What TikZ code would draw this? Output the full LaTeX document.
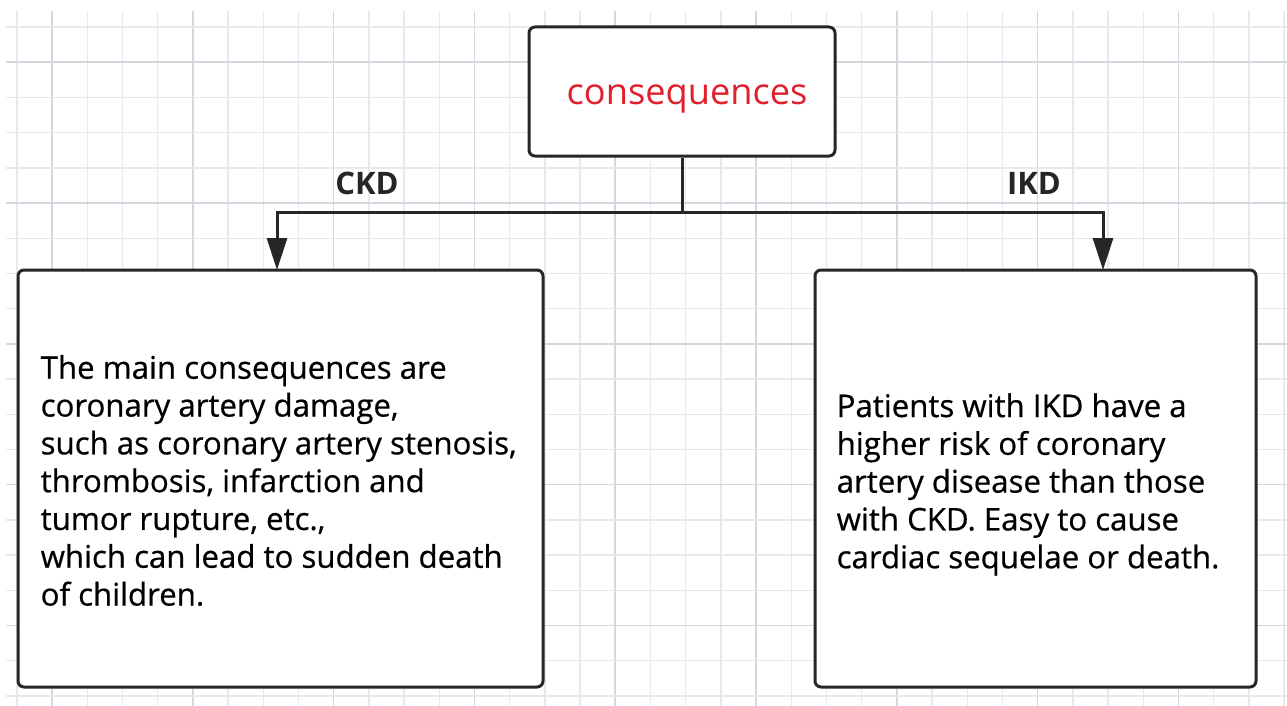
\documentclass[tikz,border=0pt]{standalone}
\usepackage{fontspec}
\setmainfont{Open Sans}
\newfontfamily\bodyfont{Open Sans}[BoldFont={Open Sans}, BoldFeatures={FakeBold=0.6}]
\usetikzlibrary{arrows.meta,calc}
\definecolor{gridminor}{HTML}{E6EAEF}
\definecolor{gridmajor}{HTML}{D3D8DF}
\definecolor{ink}{HTML}{262626}
\definecolor{redtxt}{HTML}{E0202C}
\tikzset{
  box/.style={draw=ink, line width=3pt, rounded corners=6pt, fill=white, inner sep=0pt},
  link/.style={draw=ink, line width=3pt},
  arr/.style={link, -{Triangle[length=32pt,width=20pt]}},
  body/.style={font=\bodyfont\bfseries\fontsize{31.2}{37.8}\selectfont, align=left, inner sep=0pt, text=black},
  branch/.style={font=\bfseries\fontsize{31}{34}\selectfont, text=ink, inner sep=0pt},
}
\begin{document}
\begin{tikzpicture}[x=1pt,y=-1pt]
\useasboundingbox (0,0) rectangle (1287,706);
\fill[white] (0,0) rectangle (1287,706);
% grid
\foreach \k in {0,...,36} {
  \pgfmathsetmacro{\xx}{16.8+35.2*\k}
  \pgfmathtruncatemacro{\m}{mod(\k,4)}
  \ifnum\m=1
    \draw[gridmajor, line width=1.6pt] (\xx,11) -- (\xx,706);
  \else
    \draw[gridminor, line width=1.4pt] (\xx,11) -- (\xx,706);
  \fi
}
\foreach \k in {0,...,19} {
  \pgfmathsetmacro{\yy}{27+35.2*\k}
  \pgfmathtruncatemacro{\m}{mod(\k,4)}
  \ifnum\m=1
    \draw[gridmajor, line width=1.6pt] (6,\yy) -- (1287,\yy);
  \else
    \draw[gridminor, line width=1.4pt] (6,\yy) -- (1287,\yy);
  \fi
}
% boxes
\node[box, minimum width=306pt, minimum height=129pt] (top) at (682,91.5) {};
\node[font=\fontsize{36.2}{40}\selectfont, text=redtxt, inner sep=0pt] (toptxt) at (687,99) {consequences};
\node[box, minimum width=525pt, minimum height=417pt] (lbox) at (280.5,478.5) {};
\node[box, minimum width=441pt, minimum height=417pt] (rbox) at (1035.5,478.5) {};
% texts
\node[body, anchor=west] (ltxt) at ($(lbox.west)+(24,2)$) {The main consequences are\\coronary artery damage,\\such as coronary artery stenosis,\\thrombosis, infarction and\\tumor rupture, etc.,\\which can lead to sudden death\\of children.};
\node[body, anchor=west] (rtxt) at ($(rbox.west)+(23,6)$) {Patients with IKD have a\\higher risk of coronary\\artery disease than those\\with CKD. Easy to cause\\cardiac sequelae or death.};
% connectors
\coordinate (j) at (682,212);
\coordinate (la) at (277,270);
\coordinate (ra) at (1103,270);
\draw[link] (top.south) -- (j);
\draw[arr] (j) -| (la);
\draw[arr] (j) -| (ra);
\node[branch] (ckd) at (367,183) {CKD};
\node[branch] (ikd) at (1034,183) {IKD};
\end{tikzpicture}
\end{document}
